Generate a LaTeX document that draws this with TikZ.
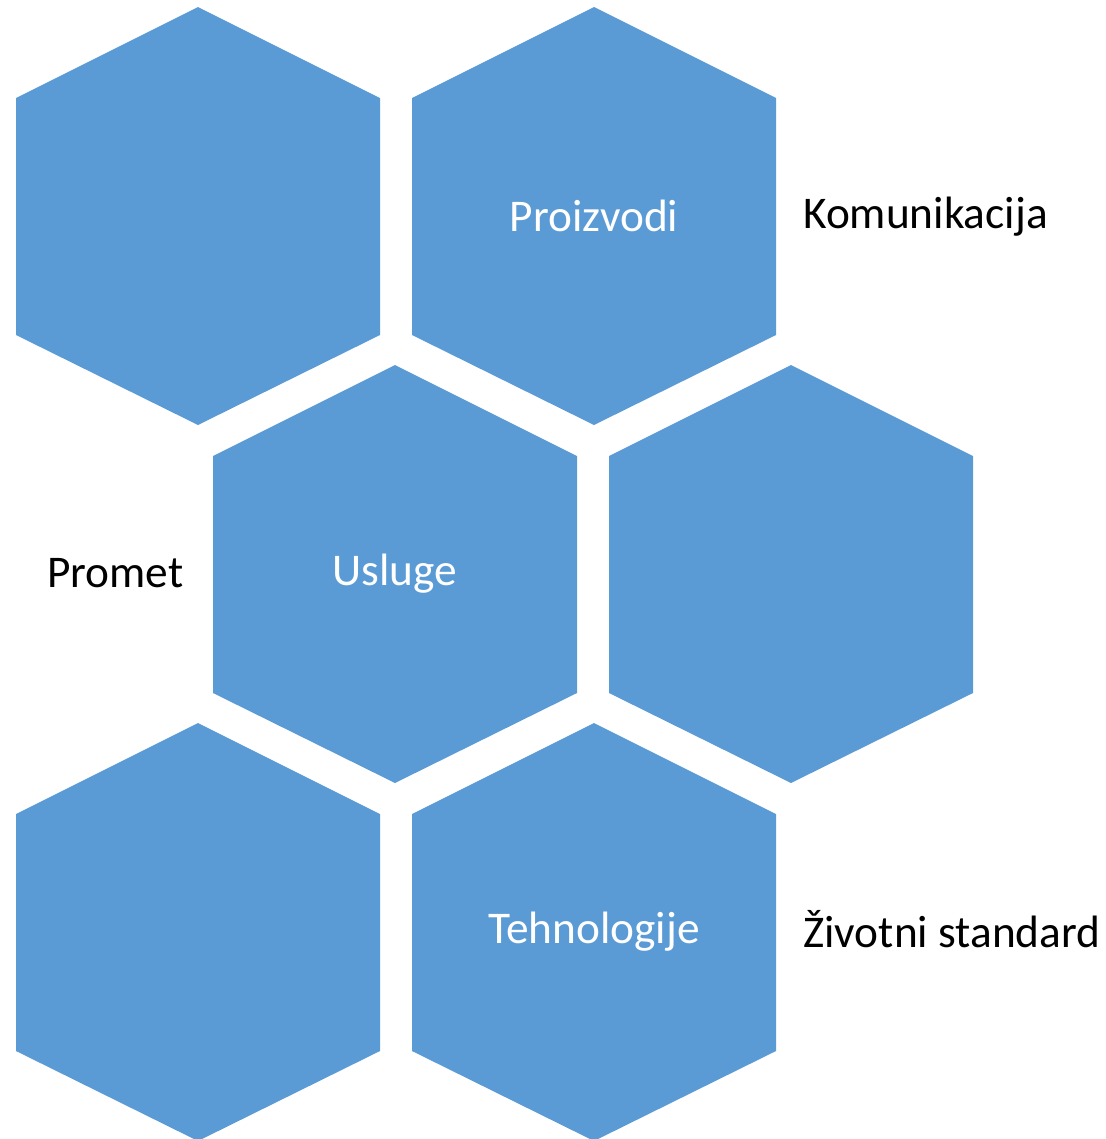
\documentclass[tikz,border=0pt]{standalone}
\usepackage{fontspec}
\setmainfont{Carlito}
\usepackage{xcolor}
\definecolor{hexblue}{RGB}{91,155,213}

\tikzset{
  hexfill/.style={fill=hexblue, draw=none},
  hexlabel/.style={inner sep=0.75pt, text=white, font=\fontsize{34}{40}\selectfont},
  sidelabel/.style={inner sep=0.75pt, text=black, anchor=west, font=\fontsize{34}{40}\selectfont}
}

\begin{document}
\begin{tikzpicture}[x=0.75pt,y=0.75pt,yscale=-1,xscale=1]

\useasboundingbox (0,0) rectangle (1106,1139);

% hexagons, centres of the honeycomb
\foreach \cx/\cy in {198/216, 594/216, 395/574, 791/574, 198/932, 594/932}
  \fill [hexfill] (\cx,\cy-209) -- (\cx+182,\cy-118) -- (\cx+182,\cy+119) -- (\cx,\cy+209) -- (\cx-182,\cy+119) -- (\cx-182,\cy-118) -- cycle ;

% texts inside
\node [hexlabel] (proizvodi) at (594,216) {Proizvodi};
\node [hexlabel] (usluge) at (395,574) {Usluge};
\node [hexlabel] (tehnologije) at (594,932) {Tehnologije};

% texts beside
\node [sidelabel] (komunikacija) at (802,217) {Komunikacija};
\node [sidelabel] (promet) at (46,573) {Promet};
\node [sidelabel] (standard) at (802,929) {Životni standard};

\end{tikzpicture}
\end{document}
